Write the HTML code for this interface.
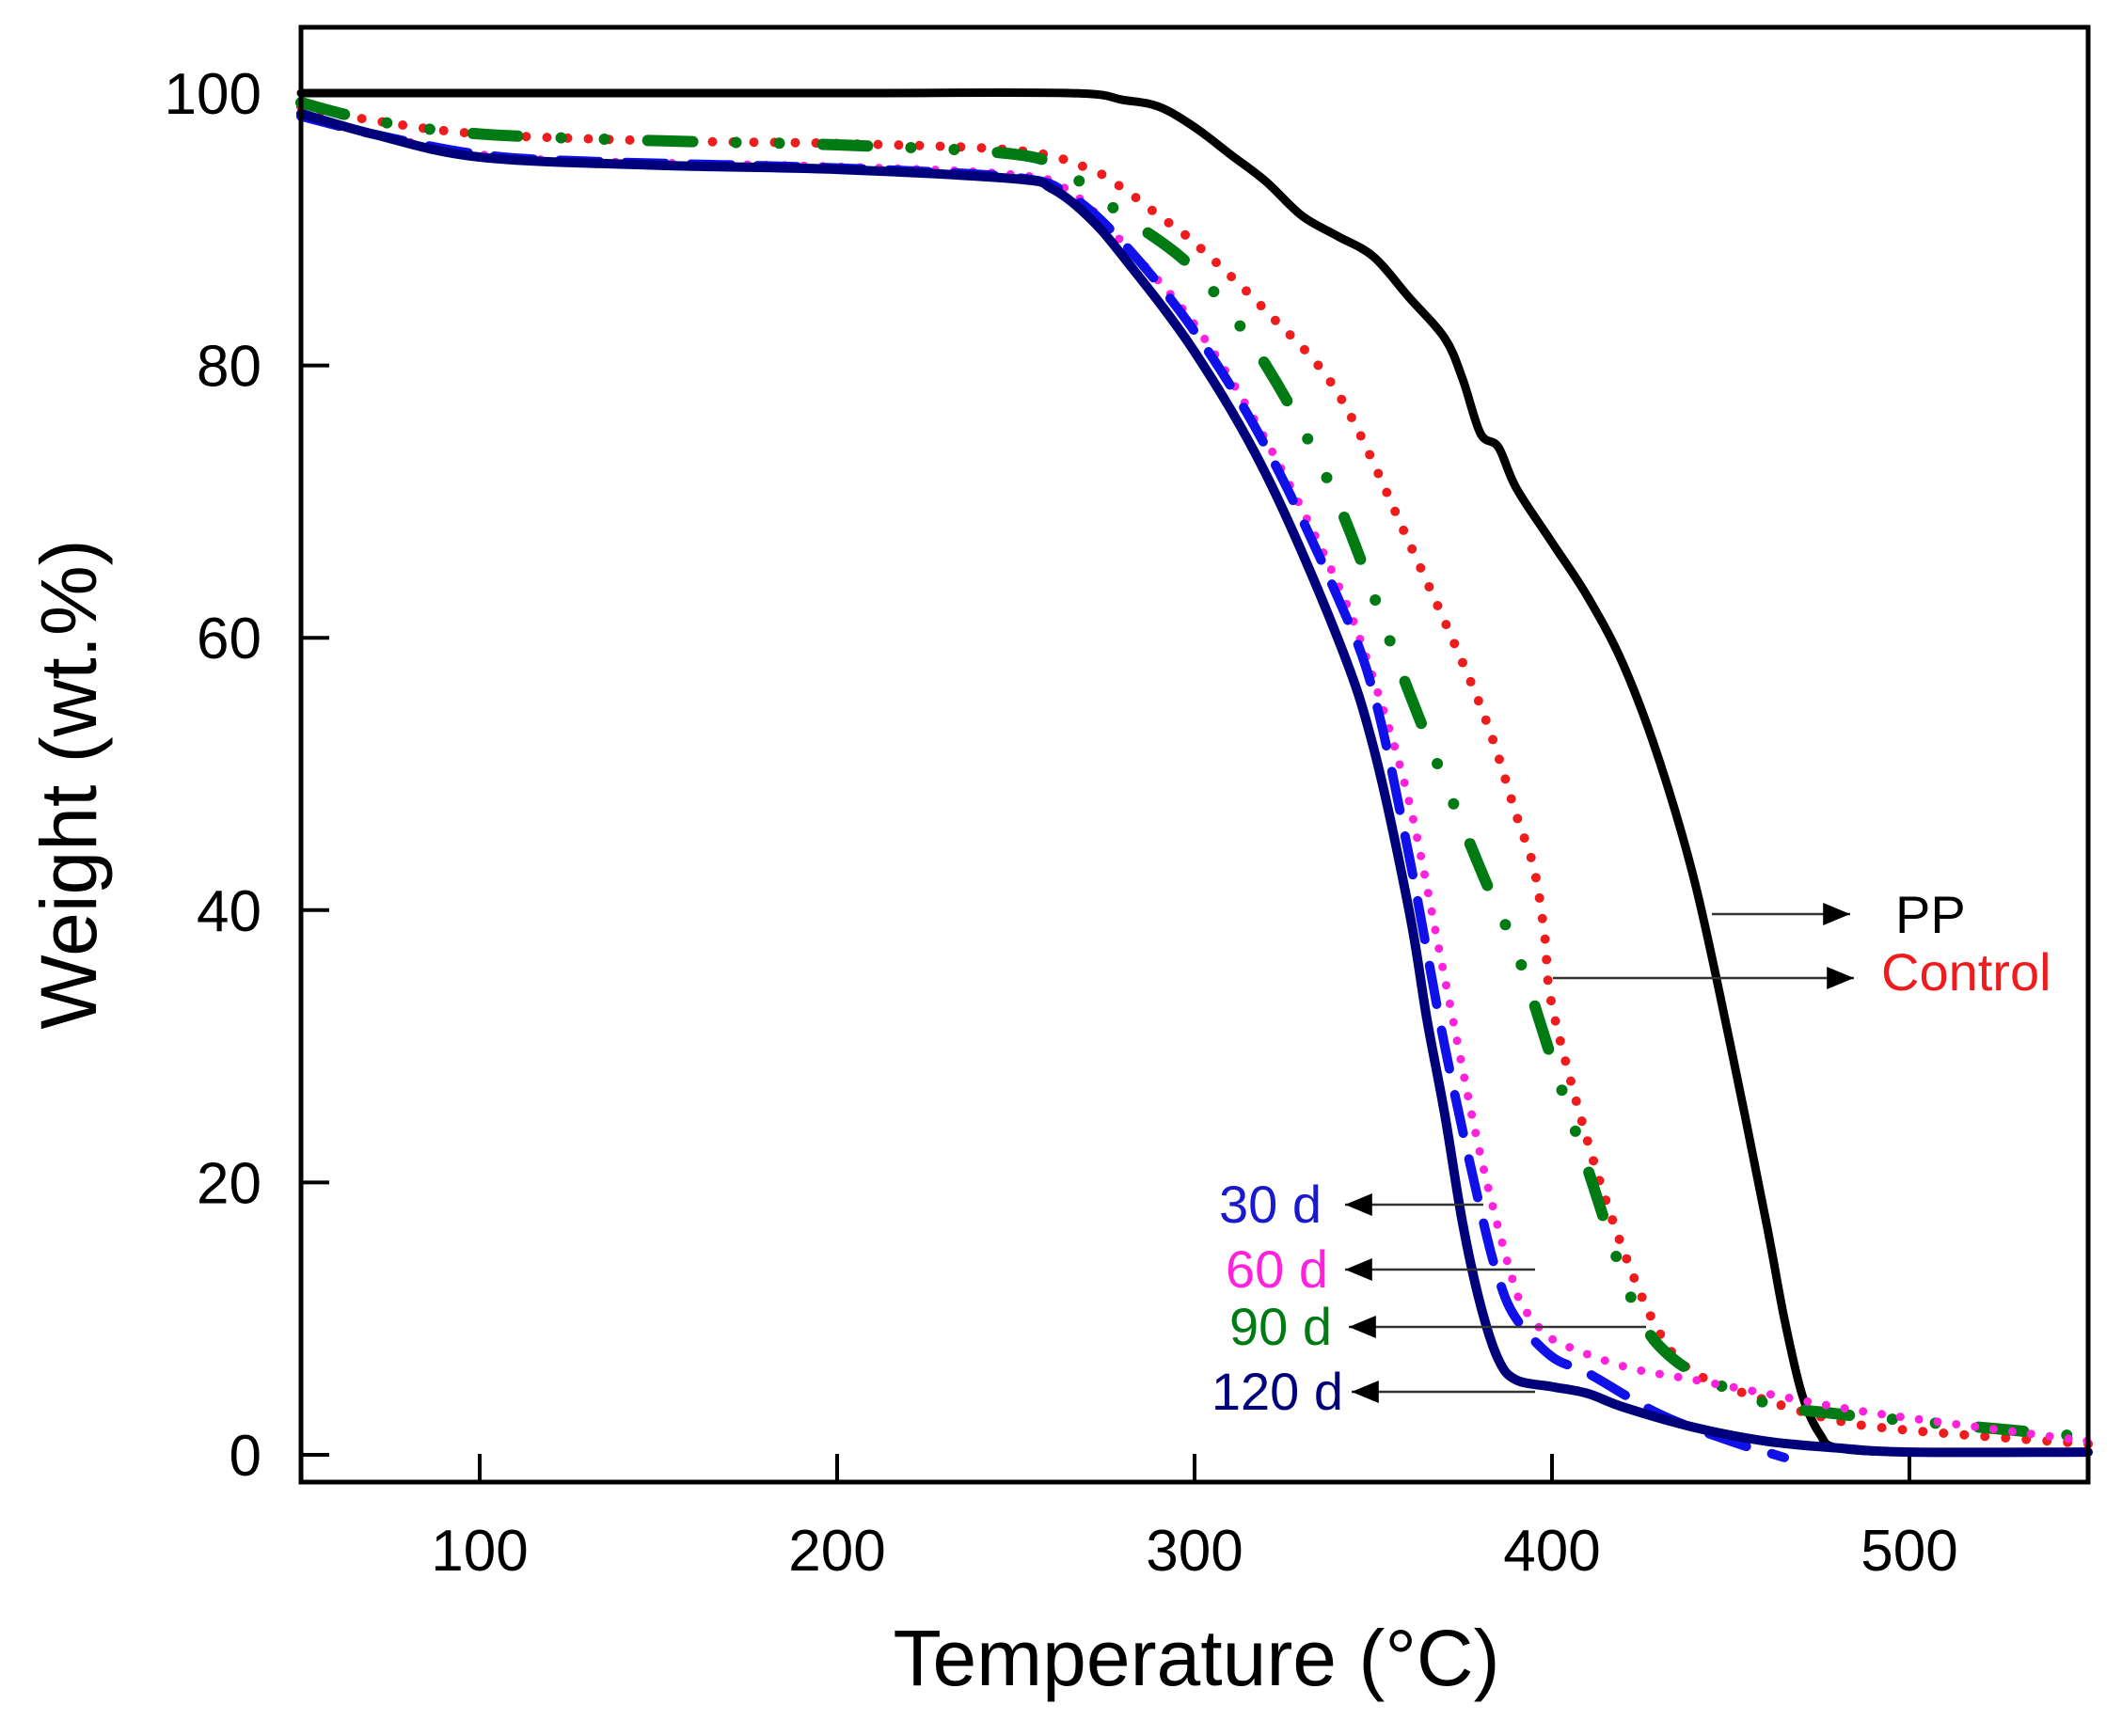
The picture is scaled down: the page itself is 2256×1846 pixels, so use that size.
<!DOCTYPE html>
<html><head><meta charset="utf-8"><style>
html,body{margin:0;padding:0;background:#fff;}
svg{display:block;font-family:"Liberation Sans",Arial,sans-serif;}
</style></head><body>
<svg id="chart" width="2256" height="1846" viewBox="0 0 2256 1846" xmlns="http://www.w3.org/2000/svg">
<g id="axes"></g>
<g id="series"></g>
<g id="annots"></g>
<rect x="320" y="29" width="1900" height="1547" fill="none" stroke="#000" stroke-width="5"/>
<text x="1272" y="1792" font-size="84" text-anchor="middle">Temperature (°C)</text>
<text transform="translate(102,834) rotate(-90)" font-size="84" text-anchor="middle">Weight (wt.%)</text>
</svg>
<script>
const xTicks = [100, 200, 300, 400, 500];
const yTicks = [0, 20, 40, 60, 80, 100];
const seriesNames = ["PP", "Control", "90 d", "60 d", "30 d", "120 d"];
const ppT = [50,100,200,265,280,290,300,310,320,330,340,350,360,370,375,380,385,390,400,410,420,430,440,450,460,465,470,475,480,500,550];
const ppW = [100,100,100,100,99.5,99,97.5,95.5,93.5,91,89.5,88,85,82,79,75,74,71,67,63,58,51,42,30,17,10,4.4,1.5,0.5,0.2,0.2];
const ctT = [50,70,100,150,200,250,270,280,290,300,320,340,360,380,390,395,398,400,410,420,430,440,460,480,500,550];
const ctW = [99,98,97,96.5,96.3,95.8,94.5,93,91,89,84,78,67,55,47,43,38,33,23,15,9,6,4,2.5,1.8,0.8];
const d90T = [50,70,100,150,200,250,265,280,300,320,340,360,380,390,400,410,420,425,430,440,460,480,500,550];
const d90W = [99.3,98,97,96.5,96.2,95.5,94,91,87,80,70,56,43,37,29,21,13,10,8,6,3.8,3,2.5,1.3];
const d60T = [50,70,100,130,200,250,265,280,300,320,340,350,360,370,380,390,395,400,420,440,460,480,500,550];
const d60W = [98.5,97,95.5,95,94.6,94,92.8,89,83,74.5,64,57,48,35,22,12,10,8.5,6.5,5.5,4.5,3.5,2.7,1];
const d30T = [50,70,100,130,200,250,265,280,300,320,340,350,360,370,380,385,390,400,410,430,450,460,465];
const d30W = [98.3,97,95.5,95,94.5,93.8,92.5,89,82.5,74,63,56,44,30,18,13,10,7.2,6,3,1,0.2,-0.2];
const d120T = [50,70,100,150,200,250,260,270,280,300,320,340,350,360,365,370,375,380,385,390,400,410,420,440,460,480,500,550];
const d120W = [98.5,97,95.3,94.7,94.4,93.7,93,91,88,81,72,60,52,40,32,25,17,11,7,5.5,5,4.5,3.5,2,1,0.5,0.2,0.2];

const X0=50,X1=550,PX0=320,PX1=2220;
const YA=0,YB=100,PYA=1547,PYB=99;
function sx(t){return PX0+(t-X0)*(PX1-PX0)/(X1-X0);}
function sy(w){return PYA+(w-YA)*(PYB-PYA)/(YB-YA);}
const NS="http://www.w3.org/2000/svg";
function mk(tag,parent){const e=document.createElementNS(NS,tag);parent.appendChild(e);return e;}
const axes=document.getElementById('axes');
xTicks.forEach(t=>{
  const l=mk('line',axes);
  
  
  l.setAttribute('x1',sx(t));l.setAttribute('x2',sx(t));l.setAttribute('y1',1576);l.setAttribute('y2',1546);
  l.setAttribute('stroke','#000');l.setAttribute('stroke-width',4);
  const tx=mk('text',axes);
  
  
  tx.setAttribute('x',sx(t));tx.setAttribute('y',1670);tx.setAttribute('font-size',62);tx.setAttribute('text-anchor','middle');
  tx.textContent=t;
});
yTicks.forEach(w=>{
  const l=mk('line',axes);
  
  
  l.setAttribute('x1',320);l.setAttribute('x2',350);l.setAttribute('y1',sy(w));l.setAttribute('y2',sy(w));
  l.setAttribute('stroke','#000');l.setAttribute('stroke-width',4);
  const tx=mk('text',axes);
  
  
  tx.setAttribute('x',278);tx.setAttribute('y',sy(w)+22);tx.setAttribute('font-size',62);tx.setAttribute('text-anchor','end');
  tx.textContent=w;
});
function pathD(T,W){
  const p=T.map((t,i)=>[sx(t),sy(W[i])]);
  let d='M'+p[0][0]+','+p[0][1];
  for(let i=0;i<p.length-1;i++){
    const p0=p[i-1]||p[i],p1=p[i],p2=p[i+1],p3=p[i+2]||p[i+1];
    const c1=[p1[0]+(p2[0]-p0[0])/6,p1[1]+(p2[1]-p0[1])/6];
    const c2=[p2[0]-(p3[0]-p1[0])/6,p2[1]-(p3[1]-p1[1])/6];
    d+=' C'+c1[0]+','+c1[1]+' '+c2[0]+','+c2[1]+' '+p2[0]+','+p2[1];
  }
  return d;
}
const ser=document.getElementById('series');
function addSeries(name,T,W,color,width,dash){
  const p=mk('path',ser);
  
  
  p.setAttribute('d',pathD(T,W));
  p.setAttribute('fill','none');p.setAttribute('stroke',color);p.setAttribute('stroke-width',width);
  p.setAttribute('stroke-linecap','round');p.setAttribute('stroke-linejoin','round');
  if(dash)p.setAttribute('stroke-dasharray',dash);
}
addSeries('series-pp',ppT,ppW,'#000',9,null);
addSeries('series-control',ctT,ctW,'#ee1c1c',10,'0 22');
addSeries('series-90d',d90T,d90W,'#007a12',12,'48 46 0 46 0 46');
addSeries('series-60d',d60T,d60W,'#ff22dd',9,'0 20');
addSeries('series-30d',d30T,d30W,'#1010e8',10,'42 28');
addSeries('series-120d',d120T,d120W,'#00007a',10,null);

const an=document.getElementById('annots');
const defs=mk('defs',document.getElementById('chart'));
const mkr=mk('marker',defs);
mkr.setAttribute('id','ah');mkr.setAttribute('refX',12);mkr.setAttribute('refY',5);mkr.setAttribute('orient','auto');mkr.setAttribute('markerUnits','userSpaceOnUse');
const mp=mk('path',mkr);mp.setAttribute('d','M0,0 L12,5 L0,10 Z');mp.setAttribute('fill','#000');
mkr.setAttribute('viewBox','0 0 12 10');mkr.setAttribute('markerWidth',38);mkr.setAttribute('markerHeight',24);
const annotations=[
 ['pp-label','PP','#000',1820,1967,972,2015,992,'start'],
 ['control-label','Control','#ee1c1c',1651,1971,1040,2000,1053,'start'],
 ['30d-label','30 d','#1a1acc',1577,1430,1281,1405,1300,'end'],
 ['60d-label','60 d','#ff22dd',1632,1430,1350,1412,1369,'end'],
 ['90d-label','90 d','#007a12',1750,1434,1411,1416,1430,'end'],
 ['120d-label','120 d','#00007a',1632,1437,1480,1428,1499,'end']
];
annotations.forEach(a=>{
  const l=mk('line',an);
  
  
  l.setAttribute('x1',a[3]);l.setAttribute('x2',a[4]);l.setAttribute('y1',a[5]);l.setAttribute('y2',a[5]);
  l.setAttribute('stroke','#333');l.setAttribute('stroke-width',2.5);l.setAttribute('marker-end','url(#ah)');
  const t=mk('text',an);
  
  
  t.setAttribute('x',a[6]);t.setAttribute('y',a[7]);t.setAttribute('font-size',56);t.setAttribute('fill',a[2]);t.setAttribute('text-anchor',a[8]);
  t.textContent=a[1];
});
</script>
</body></html>
